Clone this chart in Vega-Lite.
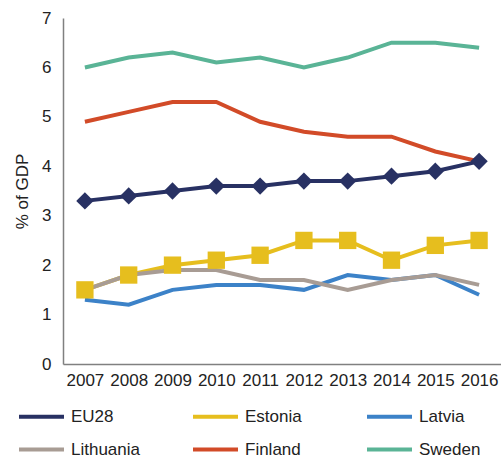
{
  "$schema": "https://vega.github.io/schema/vega-lite/v6.json",
  "autosize": {"type": "none"},
  "width": 438,
  "height": 346,
  "padding": {"left": 63, "top": 18, "right": 0, "bottom": 97},
  "background": "white",
  "config": {
    "view": {"stroke": null},
    "font": "Liberation Sans",
    "axis": {"labelFont": "Liberation Sans", "titleFont": "Liberation Sans", "labelColor": "#222222", "titleColor": "#222222"}
  },
  "data": {
    "values": [
      {"year": "2007", "country": "EU28", "value": 3.3},
      {"year": "2008", "country": "EU28", "value": 3.4},
      {"year": "2009", "country": "EU28", "value": 3.5},
      {"year": "2010", "country": "EU28", "value": 3.6},
      {"year": "2011", "country": "EU28", "value": 3.6},
      {"year": "2012", "country": "EU28", "value": 3.7},
      {"year": "2013", "country": "EU28", "value": 3.7},
      {"year": "2014", "country": "EU28", "value": 3.8},
      {"year": "2015", "country": "EU28", "value": 3.9},
      {"year": "2016", "country": "EU28", "value": 4.1},
      {"year": "2007", "country": "Estonia", "value": 1.5},
      {"year": "2008", "country": "Estonia", "value": 1.8},
      {"year": "2009", "country": "Estonia", "value": 2.0},
      {"year": "2010", "country": "Estonia", "value": 2.1},
      {"year": "2011", "country": "Estonia", "value": 2.2},
      {"year": "2012", "country": "Estonia", "value": 2.5},
      {"year": "2013", "country": "Estonia", "value": 2.5},
      {"year": "2014", "country": "Estonia", "value": 2.1},
      {"year": "2015", "country": "Estonia", "value": 2.4},
      {"year": "2016", "country": "Estonia", "value": 2.5},
      {"year": "2007", "country": "Latvia", "value": 1.3},
      {"year": "2008", "country": "Latvia", "value": 1.2},
      {"year": "2009", "country": "Latvia", "value": 1.5},
      {"year": "2010", "country": "Latvia", "value": 1.6},
      {"year": "2011", "country": "Latvia", "value": 1.6},
      {"year": "2012", "country": "Latvia", "value": 1.5},
      {"year": "2013", "country": "Latvia", "value": 1.8},
      {"year": "2014", "country": "Latvia", "value": 1.7},
      {"year": "2015", "country": "Latvia", "value": 1.8},
      {"year": "2016", "country": "Latvia", "value": 1.4},
      {"year": "2007", "country": "Lithuania", "value": 1.5},
      {"year": "2008", "country": "Lithuania", "value": 1.8},
      {"year": "2009", "country": "Lithuania", "value": 1.9},
      {"year": "2010", "country": "Lithuania", "value": 1.9},
      {"year": "2011", "country": "Lithuania", "value": 1.7},
      {"year": "2012", "country": "Lithuania", "value": 1.7},
      {"year": "2013", "country": "Lithuania", "value": 1.5},
      {"year": "2014", "country": "Lithuania", "value": 1.7},
      {"year": "2015", "country": "Lithuania", "value": 1.8},
      {"year": "2016", "country": "Lithuania", "value": 1.6},
      {"year": "2007", "country": "Finland", "value": 4.9},
      {"year": "2008", "country": "Finland", "value": 5.1},
      {"year": "2009", "country": "Finland", "value": 5.3},
      {"year": "2010", "country": "Finland", "value": 5.3},
      {"year": "2011", "country": "Finland", "value": 4.9},
      {"year": "2012", "country": "Finland", "value": 4.7},
      {"year": "2013", "country": "Finland", "value": 4.6},
      {"year": "2014", "country": "Finland", "value": 4.6},
      {"year": "2015", "country": "Finland", "value": 4.3},
      {"year": "2016", "country": "Finland", "value": 4.1},
      {"year": "2007", "country": "Sweden", "value": 6.0},
      {"year": "2008", "country": "Sweden", "value": 6.2},
      {"year": "2009", "country": "Sweden", "value": 6.3},
      {"year": "2010", "country": "Sweden", "value": 6.1},
      {"year": "2011", "country": "Sweden", "value": 6.2},
      {"year": "2012", "country": "Sweden", "value": 6.0},
      {"year": "2013", "country": "Sweden", "value": 6.2},
      {"year": "2014", "country": "Sweden", "value": 6.5},
      {"year": "2015", "country": "Sweden", "value": 6.5},
      {"year": "2016", "country": "Sweden", "value": 6.4}
    ]
  },
  "encoding": {
    "x": {
      "field": "year", "type": "ordinal",
      "scale": {"type": "point", "padding": 0.5},
      "axis": {"title": null, "labelAngle": 0, "labelFontSize": 17, "ticks": false, "domainColor": "#808080", "domainWidth": 1.5, "labelPadding": 8}
    },
    "y": {
      "field": "value", "type": "quantitative",
      "scale": {"domain": [0, 7], "nice": false},
      "axis": {"title": "% of GDP", "titleFontSize": 17, "titleFontWeight": "normal", "labelFontSize": 17, "grid": false, "ticks": false, "tickCount": 7, "domainColor": "#808080", "domainWidth": 1.5, "labelPadding": 12, "titlePadding": 10}
    },
    "color": {
      "field": "country", "type": "nominal",
      "scale": {
        "domain": ["EU28", "Estonia", "Latvia", "Lithuania", "Finland", "Sweden"],
        "range": ["#283163", "#e6be1e", "#3c82c8", "#a89c94", "#d24b28", "#5ab496"]
      },
      "legend": {
        "title": null, "orient": "none", "legendX": -46, "legendY": 374,
        "columns": 3, "direction": "horizontal", "gridAlign": "all",
        "symbolType": "stroke", "symbolSize": 2025, "symbolStrokeWidth": 4,
        "labelFontSize": 17, "labelColor": "#222222", "labelOffset": 5,
        "columnPadding": 44, "rowPadding": -3
      }
    }
  },
  "layer": [
    {"mark": {"type": "line", "strokeWidth": 4}},
    {
      "transform": [{"filter": "datum.country === 'EU28'"}],
      "mark": {"type": "point", "shape": "diamond", "filled": true, "size": 300, "opacity": 1}
    },
    {
      "transform": [{"filter": "datum.country === 'Estonia'"}],
      "mark": {"type": "square", "filled": true, "size": 300, "opacity": 1}
    }
  ]
}
